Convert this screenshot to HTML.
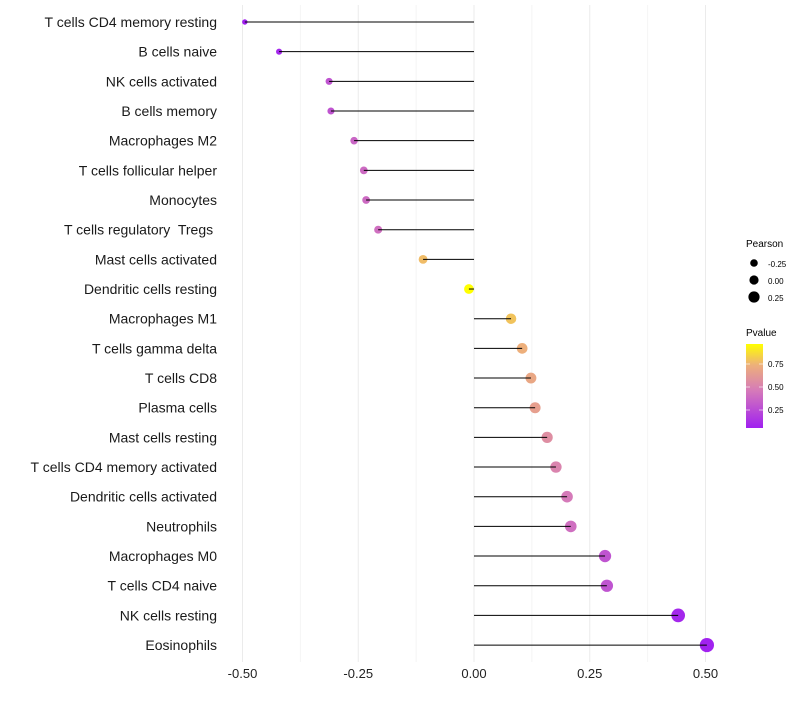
<!DOCTYPE html>
<html><head><meta charset="utf-8"><style>
body{margin:0;background:#fff;}
svg text{font-family:"Liberation Sans",sans-serif;white-space:pre;}
</style></head><body>
<svg id="chart" width="800" height="700" xmlns="http://www.w3.org/2000/svg">
<defs><linearGradient id="pg" x1="0" y1="1" x2="0" y2="0">
<stop offset="0" stop-color="#A020F0"/><stop offset="0.45" stop-color="#D67BB8"/><stop offset="0.75" stop-color="#EDB07A"/><stop offset="1" stop-color="#FFFF00"/>
</linearGradient></defs>
<g id="grid"></g><g id="marks"></g><g id="labels"></g>
<g>
<text x="746" y="247" font-size="10">Pearson</text>
<circle cx="754" cy="263" r="3.8" fill="#000"/><text x="768" y="267" font-size="8">-0.25</text>
<circle cx="754" cy="280" r="4.6" fill="#000"/><text x="768" y="284" font-size="8">0.00</text>
<circle cx="754" cy="297" r="5.6" fill="#000"/><text x="768" y="301" font-size="8">0.25</text>
</g>
<g>
<text x="746" y="336" font-size="10">Pvalue</text>
<rect x="746" y="344" width="17" height="84" fill="url(#pg)"/>
<line x1="746" y1="364" x2="750" y2="364" stroke="#fff" stroke-opacity="0.6"/><line x1="759" y1="364" x2="763" y2="364" stroke="#fff" stroke-opacity="0.6"/>
<line x1="746" y1="387" x2="750" y2="387" stroke="#fff" stroke-opacity="0.6"/><line x1="759" y1="387" x2="763" y2="387" stroke="#fff" stroke-opacity="0.6"/>
<line x1="746" y1="410" x2="750" y2="410" stroke="#fff" stroke-opacity="0.6"/><line x1="759" y1="410" x2="763" y2="410" stroke="#fff" stroke-opacity="0.6"/>
<text x="768" y="367" font-size="8">0.75</text><text x="768" y="390" font-size="8">0.50</text><text x="768" y="413" font-size="8">0.25</text>
</g>
</svg>
<script>
const categories=["T cells CD4 memory resting","B cells naive","NK cells activated","B cells memory","Macrophages M2","T cells follicular helper","Monocytes","T cells regulatory  Tregs ","Mast cells activated","Dendritic cells resting","Macrophages M1","T cells gamma delta","T cells CD8","Plasma cells","Mast cells resting","T cells CD4 memory activated","Dendritic cells activated","Neutrophils","Macrophages M0","T cells CD4 naive","NK cells resting","Eosinophils"];
const pearson=[-0.495,-0.421,-0.313,-0.309,-0.259,-0.238,-0.233,-0.207,-0.110,-0.011,0.080,0.104,0.123,0.132,0.158,0.177,0.201,0.209,0.283,0.287,0.441,0.503];
const pvalues=[0.05,0.08,0.28,0.28,0.36,0.38,0.38,0.40,0.76,0.95,0.78,0.72,0.68,0.64,0.55,0.50,0.45,0.40,0.28,0.28,0.08,0.06];
const xTicks=[-0.5,-0.25,0,0.25,0.5];
const xTickLabels=["-0.50","-0.25","0.00","0.25","0.50"];
const NS="http://www.w3.org/2000/svg";
const x=v=>474+v*463;
const y=i=>22+i*29.67;
const r=v=>Math.max(2,4.9+v*4.4);
const stops=[[0,[160,32,240]],[0.45,[214,123,184]],[0.75,[237,176,122]],[1,[255,255,0]]];
function col(p){let t=(p-0.05)/0.9;t=Math.max(0,Math.min(1,t));for(let k=1;k<stops.length;k++){if(t<=stops[k][0]){const a=stops[k-1],b=stops[k];const f=(t-a[0])/(b[0]-a[0]);const c=a[1].map((v,j)=>Math.round(v+(b[1][j]-v)*f));return `rgb(${c})`;}}return "rgb(255,255,0)";}
function mk(tag,attrs,parent){const e=document.createElementNS(NS,tag);for(const k in attrs)e.setAttribute(k,attrs[k]);parent.appendChild(e);return e;}
const grid=document.getElementById('grid'),marks=document.getElementById('marks'),labels=document.getElementById('labels');
for(let k=0;k<=8;k++){const v=-0.5+k*0.125;const g=mk('line',{x1:x(v),x2:x(v),y1:5,y2:662,stroke:k%2?'#f4f4f4':'#ebebeb','stroke-width':1},grid);

}
xTicks.forEach((v,i)=>{const t=mk('text',{x:x(v),y:678,'font-size':13,'text-anchor':'middle',fill:'#222'},labels);t.textContent=xTickLabels[i];

});
categories.forEach((c,i)=>{
const t=mk('text',{x:217,y:y(i)+5,'font-size':14,'text-anchor':'end',fill:'#1a1a1a'},labels);t.textContent=c;


const d=mk('circle',{cx:x(pearson[i]),cy:y(i),r:r(pearson[i]),fill:col(pvalues[i])},marks);


const l=mk('line',{x1:x(0),x2:x(pearson[i]),y1:y(i),y2:y(i),stroke:'#000','stroke-width':1},marks);


});
</script>
</body></html>
